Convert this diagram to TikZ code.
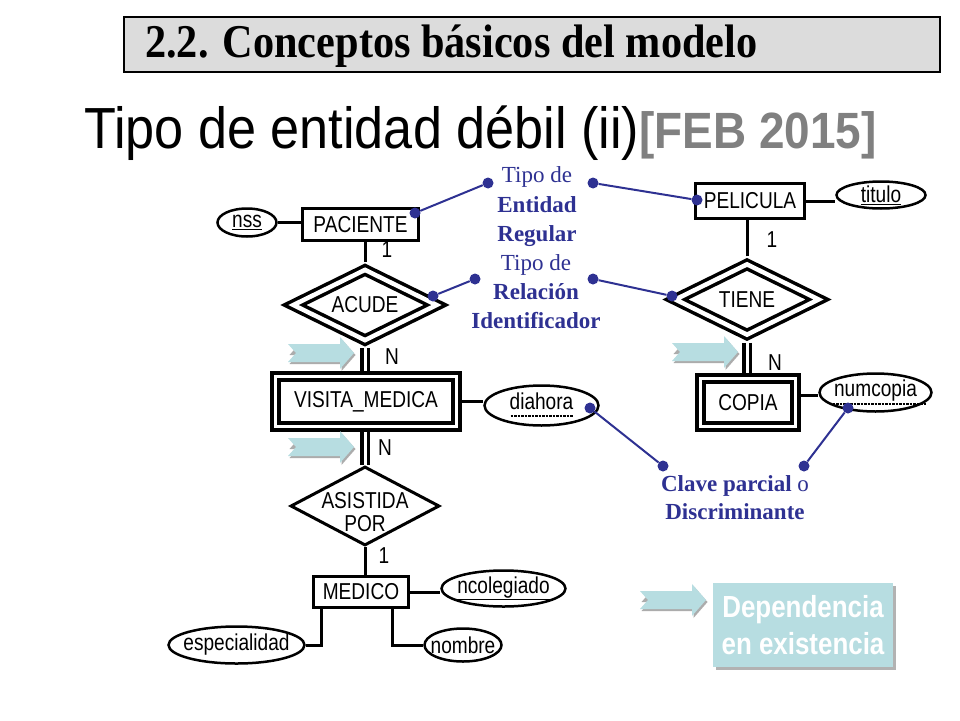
\documentclass[tikz,border=0pt]{standalone}
\usepackage{fontspec}
\usepackage{xcolor}
\usepackage{graphicx}
\usepackage{tikz}
\usetikzlibrary{shapes.geometric,shadows}
\setmainfont{Liberation Serif}
\newfontfamily\erfont[FakeStretch=0.83]{Liberation Sans}
\newfontfamily\titfont[FakeStretch=0.9]{Liberation Sans}
\newfontfamily\depfont[FakeStretch=0.85]{Liberation Sans}
\newfontfamily\cabfont[FakeStretch=0.9]{Liberation Serif}
\newcommand{\erletra}{\erfont\fontsize{23}{23}\selectfont}
\definecolor{azul}{RGB}{46,49,146}
\definecolor{celeste}{RGB}{183,221,225}
\definecolor{grisfondo}{RGB}{220,220,220}
\definecolor{grisfeb}{RGB}{128,128,128}
\tikzset{flecha/.pic={
  \fill[gray!65] (1.5,2) -- (9.5,-7) -- (53.5,-7) -- (53.5,-14) -- (67.5,2) -- (53.5,18) -- (53.5,11) -- (1.5,11) -- (9.5,2) -- cycle;
  \fill[celeste] (0,-9) -- (52,-9) -- (52,-16) -- (66,0) -- (52,16) -- (52,9) -- (0,9) -- (8,0) -- cycle;
}}

\begin{document}
\begin{tikzpicture}[x=1pt,y=-1pt]
\tikzstyle{every node}+=[inner sep=0pt]
\tikzstyle{ent}=[draw, rectangle, line width=3pt, font=\erletra]
\tikzstyle{entdeb}=[draw, rectangle, double, line width=3.8pt, double distance=3.4pt, outer sep=5.5pt, font=\erletra]
\tikzstyle{rel}=[draw, diamond, aspect=2, inner sep=-6pt, line width=3pt, align=center, font=\erletra]
\tikzstyle{reldeb}=[draw, diamond, aspect=2, inner sep=-6pt, double, line width=3.5pt, double distance=4.5pt, outer sep=5.75pt, font=\erletra]
\tikzstyle{atr}=[draw, ellipse, line width=2.5pt, inner xsep=-15pt, font=\erletra]
\tikzstyle{conector}=[line width=3pt]
\tikzstyle{conectordeb}=[double, line width=3.5pt, double distance=3pt]
\tikzstyle{etiq}=[font=\erletra]
\tikzstyle{nota}=[text=azul, align=center, font=\fontsize{23}{29.5}\selectfont]
\tikzstyle{punto}=[circle, fill=azul, minimum size=11pt]
\tikzstyle{enlace}=[azul, line width=2pt]
\fill[white] (0,0) rectangle (960,720);
\useasboundingbox (0,0) rectangle (960,720);
% cabecera y titulo
\node[draw, line width=1.3pt, fill=grisfondo, minimum width=816pt, minimum height=55pt] (cab) at (532,44.5) {};
\node[anchor=base west, font=\cabfont\bfseries\fontsize{47}{50}\selectfont] (cabtxt) at (145,57) {2.2. Conceptos básicos del modelo};
\node[anchor=base west] (tit) at (84,148) {{\titfont\fontsize{58}{60}\selectfont Tipo de entidad débil (ii)}{\titfont\bfseries\fontsize{51}{55}\selectfont\color{grisfeb}[FEB 2015]}};
% entidades y relaciones
\node[ent, minimum width=116pt, minimum height=32pt] (pac) at (360.5,224.5) {PACIENTE};
\node[reldeb, minimum width=148pt, minimum height=75pt] (acu) at (365,305) {ACUDE};
\node[entdeb, minimum width=181pt, minimum height=50pt] (vis) at (366,401.5) {VISITA\_MEDICA};
\node[rel, minimum width=149pt, minimum height=79pt] (asi) at (365,506) {};
\node[etiq, align=center] (asitxt) at (365,512) {ASISTIDA\\POR};
\node[ent, minimum width=95pt, minimum height=31pt] (med) at (361,592) {MEDICO};
\node[ent, minimum width=109pt, minimum height=35pt] (pel) at (750,201) {PELICULA};
\node[reldeb, minimum width=148pt, minimum height=75pt] (tie) at (747,299.5) {TIENE};
\node[entdeb, minimum width=95pt, minimum height=48pt] (cop) at (748,402.5) {COPIA};
% atributos
\node[atr, minimum width=59pt, minimum height=28pt] (nss) at (247,222.5) {\underline{nss}};
\node[atr, minimum width=114pt, minimum height=40pt, text depth=9pt] (dia) at (541.5,405.5) {diahora};
\node[atr, minimum width=124pt, minimum height=36pt] (ncol) at (503.5,588.5) {\underline{ncolegiado}};
\node[atr, minimum width=136pt, minimum height=37pt] (esp) at (236.5,645) {especialidad};
\node[atr, minimum width=77pt, minimum height=33pt] (nom) at (463,645) {nombre};
\node[atr, minimum width=89pt, minimum height=27pt] (titu) at (881,195) {\underline{titulo}};
\node[atr, minimum width=112pt, minimum height=38pt, text depth=9pt] (numc) at (875.5,392.5) {numcopia};
\draw[densely dotted, line width=2.5pt] ([shift={(-31,10.5)}]dia.center) -- ++(62,0);
\draw[densely dotted, line width=2.5pt] ([shift={(-43,11.5)}]numc.center) -- ++(93,0);
% conectores
\draw[conector] (nss.east) -- (nss.east -| pac.west);
\draw[conector] (acu.north) -- (acu.north |- pac.south);
\draw[conectordeb] (acu.south) -- (acu.south |- vis.north);
\draw[conector] (vis.east) -- (vis.east -| dia.west);
\draw[conectordeb] (asi.north) -- (asi.north |- vis.south);
\draw[conector] (asi.south) -- (asi.south |- med.north);
\draw[conector] (med.east) -- (med.east -| ncol.west);
\draw[conector] ([xshift=-40pt]med.south) |- (esp.east);
\draw[conector] ([xshift=31pt]med.south) |- (nom.west);
\draw[conector] (pel.east) -- (pel.east -| titu.west);
\draw[conector] (tie.north) -- (tie.north |- pel.south);
\draw[conectordeb] (tie.south) -- (tie.south |- cop.north);
\draw[conector] ([yshift=7pt]cop.east) -- ([yshift=7pt]cop.east -| numc.west);
% cardinalidades
\node[etiq] (c1) at (387,250) {1};
\node[etiq] (c2) at (772,240) {1};
\node[etiq] (c3) at (384,556) {1};
\node[etiq] (m1) at (392,357) {N};
\node[etiq] (m2) at (385,448) {N};
\node[etiq] (m3) at (775,363) {N};
% flechas de dependencia
\foreach \p in {(288,353),(288,447),(672,352),(640,600)}
  \pic at \p {flecha};
\node[fill=celeste, minimum width=180pt, minimum height=84pt, text=white, align=center,
  drop shadow={shadow xshift=2.5pt, shadow yshift=-2.5pt, fill=gray!60, opacity=1},
  font=\depfont\bfseries\fontsize{30.5}{37}\selectfont] (dep) at (803,625) {Dependencia\\en existencia};
% notas
\node[nota] (n1) at (537,207) {Tipo de\\\textbf{Entidad}\\\textbf{Regular}};
\node[nota, font=\fontsize{23}{29}\selectfont] (n2) at (536,292) {Tipo de\\\textbf{Relación}\\\textbf{Identificador}};
\node[nota, font=\fontsize{23}{28}\selectfont] (n3) at (735,498) {\textbf{Clave parcial} o\\\textbf{Discriminante}};
\node[punto] (p1) at (488,183) {};
\node[punto] (p2) at (593,183) {};
\node[punto] (p3) at (475,279) {};
\node[punto] (p4) at (593,279) {};
\node[punto] (p5) at (663,466) {};
\node[punto] (p6) at (804,466) {};
\node[punto] (ppac) at (415,213) {};
\node[punto] (pacu) at (433,296) {};
\node[punto] (ppel) at (697,200) {};
\node[punto] (ptie) at (672,296) {};
\node[punto] (pdia) at (590,408) {};
\node[punto] (pnum) at (848,408) {};
\foreach \a/\b in {p1/ppac,p2/ppel,p3/pacu,p4/ptie,p5/pdia,p6/pnum}
  \draw[enlace] (\a) -- (\b);
\end{tikzpicture}
\end{document}
